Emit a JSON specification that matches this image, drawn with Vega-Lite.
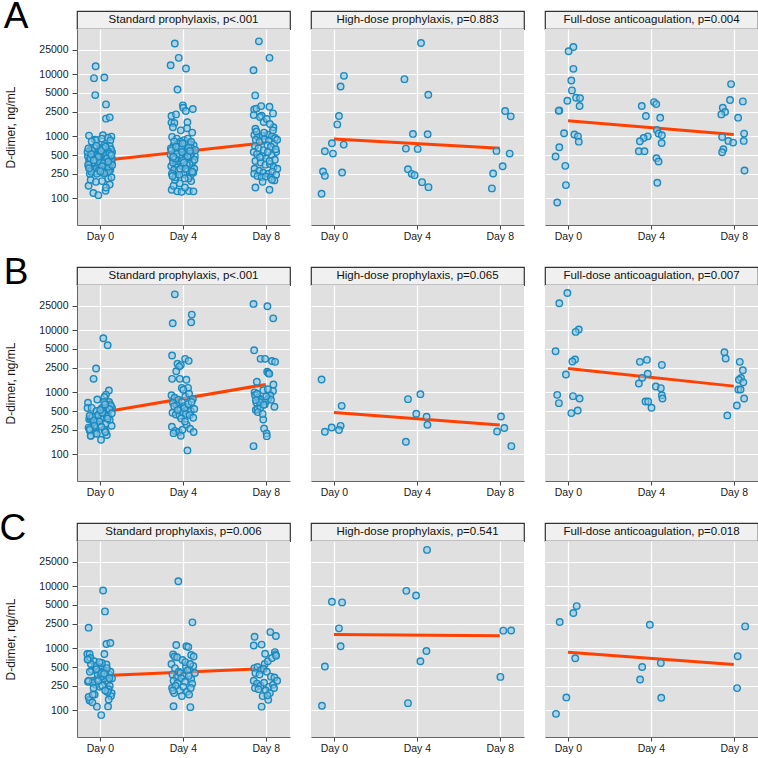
{
"$schema":"https://vega.github.io/schema/vega-lite/v6.json",
"padding":{"left":-2,"top":-3,"right":0,"bottom":0},
"config":{"font":"Liberation Sans, Arial, sans-serif","view":{"fill":"#e0e0e0","stroke":null},
"axis":{"labelFont":"Liberation Sans, Arial, sans-serif","labelFontSize":10.5,"labelColor":"#1a1a1a","gridColor":"#ffffff","gridWidth":1.2,"domainColor":"#666666","tickColor":"#444444","tickSize":4,"labelPadding":2,"titleFont":"Liberation Sans, Arial, sans-serif","titleFontWeight":"normal","titleFontSize":12,"titleColor":"#1a1a1a"},
"axisY":{"tickSize":5,"labelPadding":4},
"title":{"font":"Liberation Sans, Arial, sans-serif","fontWeight":"normal"}},
"datasets":{
"lns":[{"r":"A","a":"S","x":0,"v":406},{"r":"A","a":"S","x":8,"v":792},{"r":"A","a":"H","x":0,"v":908},{"r":"A","a":"H","x":8,"v":643},{"r":"A","a":"F","x":0,"v":1790},{"r":"A","a":"F","x":8,"v":1067},
{"r":"B","a":"S","x":0,"v":470},{"r":"B","a":"S","x":8,"v":1340},{"r":"B","a":"H","x":0,"v":474},{"r":"B","a":"H","x":8,"v":297},{"r":"B","a":"F","x":0,"v":2420},{"r":"B","a":"F","x":8,"v":1260},
{"r":"C","a":"S","x":0,"v":362},{"r":"C","a":"S","x":8,"v":473},{"r":"C","a":"H","x":0,"v":1665},{"r":"C","a":"H","x":8,"v":1600},{"r":"C","a":"F","x":0,"v":865},{"r":"C","a":"F","x":8,"v":548}],
"pts":[
{"r":"A","a":"S","x":-0.21,"v":13500},{"r":"A","a":"S","x":-0.29,"v":8670},{"r":"A","a":"S","x":0.21,"v":8890},{"r":"A","a":"S","x":-0.23,"v":4625},{"r":"A","a":"S","x":0.29,"v":3275},{"r":"A","a":"S","x":0.29,"v":1930},{"r":"A","a":"S","x":0.47,"v":2025},{"r":"A","a":"S","x":-0.53,"v":1028},{"r":"A","a":"S","x":0.14,"v":1040},{"r":"A","a":"S","x":0.55,"v":990},{"r":"A","a":"S","x":-0.24,"v":880},{"r":"A","a":"S","x":-0.16,"v":870},{"r":"A","a":"S","x":0.38,"v":950},{"r":"A","a":"S","x":0.08,"v":920},{"r":"A","a":"S","x":0.5,"v":860},{"r":"A","a":"S","x":-0.4,"v":830},
{"r":"A","a":"S","x":-0.55,"v":160},{"r":"A","a":"S","x":-0.32,"v":122},{"r":"A","a":"S","x":-0.08,"v":113},{"r":"A","a":"S","x":0.27,"v":133},{"r":"A","a":"S","x":0.47,"v":168},{"r":"A","a":"S","x":0.29,"v":150},{"r":"A","a":"S","x":-0.45,"v":200},{"r":"A","a":"S","x":0.1,"v":190},{"r":"A","a":"S","x":0.4,"v":210},{"r":"A","a":"S","x":-0.2,"v":185},{"r":"A","a":"S","x":0.55,"v":220},
{"r":"A","a":"S","x":-0.52,"v":420},{"r":"A","a":"S","x":0.31,"v":380},{"r":"A","a":"S","x":-0.07,"v":510},{"r":"A","a":"S","x":0.44,"v":460},{"r":"A","a":"S","x":-0.33,"v":300},{"r":"A","a":"S","x":0.12,"v":350},{"r":"A","a":"S","x":0.58,"v":560},{"r":"A","a":"S","x":-0.21,"v":270},{"r":"A","a":"S","x":0.03,"v":440},{"r":"A","a":"S","x":-0.46,"v":610},{"r":"A","a":"S","x":0.26,"v":330},{"r":"A","a":"S","x":-0.14,"v":390},{"r":"A","a":"S","x":0.5,"v":290},{"r":"A","a":"S","x":-0.58,"v":480},{"r":"A","a":"S","x":0.19,"v":600},{"r":"A","a":"S","x":-0.28,"v":355},{"r":"A","a":"S","x":0.38,"v":410},{"r":"A","a":"S","x":-0.01,"v":650},{"r":"A","a":"S","x":0.09,"v":260},{"r":"A","a":"S","x":-0.39,"v":340},{"r":"A","a":"S","x":0.22,"v":520},{"r":"A","a":"S","x":-0.49,"v":250},{"r":"A","a":"S","x":0.47,"v":700},{"r":"A","a":"S","x":-0.11,"v":430},{"r":"A","a":"S","x":0.35,"v":370},{"r":"A","a":"S","x":-0.24,"v":560},{"r":"A","a":"S","x":0.05,"v":310},{"r":"A","a":"S","x":0.56,"v":395},{"r":"A","a":"S","x":-0.36,"v":470},{"r":"A","a":"S","x":0.16,"v":280},{"r":"A","a":"S","x":-0.55,"v":330},{"r":"A","a":"S","x":0.41,"v":540},{"r":"A","a":"S","x":-0.03,"v":365},{"r":"A","a":"S","x":0.28,"v":450},{"r":"A","a":"S","x":-0.44,"v":290},{"r":"A","a":"S","x":0.53,"v":620},{"r":"A","a":"S","x":-0.17,"v":500},{"r":"A","a":"S","x":0.07,"v":405},{"r":"A","a":"S","x":-0.31,"v":380},{"r":"A","a":"S","x":0.33,"v":265},{"r":"A","a":"S","x":-0.6,"v":560},{"r":"A","a":"S","x":0.2,"v":720},{"r":"A","a":"S","x":-0.09,"v":340},{"r":"A","a":"S","x":0.45,"v":310},{"r":"A","a":"S","x":-0.26,"v":650},{"r":"A","a":"S","x":0.11,"v":480},{"r":"A","a":"S","x":-0.5,"v":395},{"r":"A","a":"S","x":0.37,"v":580},{"r":"A","a":"S","x":-0.19,"v":300},{"r":"A","a":"S","x":0.01,"v":545},{"r":"A","a":"S","x":0.57,"v":440},{"r":"A","a":"S","x":-0.42,"v":270},{"r":"A","a":"S","x":0.24,"v":415},{"r":"A","a":"S","x":-0.05,"v":285},{"r":"A","a":"S","x":0.49,"v":360},{"r":"A","a":"S","x":-0.34,"v":520},{"r":"A","a":"S","x":0.14,"v":640},{"r":"A","a":"S","x":-0.57,"v":350},{"r":"A","a":"S","x":0.3,"v":500},{"r":"A","a":"S","x":-0.13,"v":455},{"r":"A","a":"S","x":0.43,"v":275},{"r":"A","a":"S","x":-0.23,"v":420},{"r":"A","a":"S","x":0.06,"v":590},{"r":"A","a":"S","x":-0.47,"v":450},{"r":"A","a":"S","x":0.39,"v":325},{"r":"A","a":"S","x":-0.02,"v":395},{"r":"A","a":"S","x":0.52,"v":480},{"r":"A","a":"S","x":-0.38,"v":600},{"r":"A","a":"S","x":0.18,"v":370},{"r":"A","a":"S","x":-0.15,"v":250},{"r":"A","a":"S","x":0.27,"v":680},{"r":"A","a":"S","x":-0.53,"v":305},{"r":"A","a":"S","x":0.46,"v":530},{"r":"A","a":"S","x":-0.08,"v":470},{"r":"A","a":"S","x":0.34,"v":445},{"r":"A","a":"S","x":-0.3,"v":410},{"r":"A","a":"S","x":0.1,"v":330},{"r":"A","a":"S","x":0.59,"v":345},{"r":"A","a":"S","x":-0.43,"v":520},{"r":"A","a":"S","x":0.21,"v":255},{"r":"A","a":"S","x":-0.18,"v":710},{"r":"A","a":"S","x":0.4,"v":390},{"r":"A","a":"S","x":-0.56,"v":640},{"r":"A","a":"S","x":0.02,"v":275},{"r":"A","a":"S","x":0.55,"v":500},
{"r":"A","a":"S","x":3.61,"v":31300},{"r":"A","a":"S","x":3.8,"v":18400},{"r":"A","a":"S","x":3.41,"v":14000},{"r":"A","a":"S","x":4.15,"v":12400},{"r":"A","a":"S","x":3.74,"v":5700},{"r":"A","a":"S","x":4.0,"v":3155},{"r":"A","a":"S","x":4.02,"v":2890},{"r":"A","a":"S","x":4.48,"v":2760},{"r":"A","a":"S","x":4.14,"v":2560},{"r":"A","a":"S","x":3.45,"v":2130},{"r":"A","a":"S","x":3.67,"v":2260},{"r":"A","a":"S","x":3.45,"v":1665},{"r":"A","a":"S","x":3.59,"v":1640},{"r":"A","a":"S","x":4.22,"v":1690},{"r":"A","a":"S","x":3.52,"v":1400},{"r":"A","a":"S","x":4.2,"v":1350},{"r":"A","a":"S","x":3.9,"v":1250},{"r":"A","a":"S","x":4.45,"v":1150},
{"r":"A","a":"S","x":3.46,"v":138},{"r":"A","a":"S","x":3.73,"v":130},{"r":"A","a":"S","x":3.94,"v":128},{"r":"A","a":"S","x":4.29,"v":132},{"r":"A","a":"S","x":4.51,"v":130},{"r":"A","a":"S","x":3.55,"v":160},{"r":"A","a":"S","x":4.1,"v":150},{"r":"A","a":"S","x":3.85,"v":175},{"r":"A","a":"S","x":4.4,"v":190},{"r":"A","a":"S","x":3.62,"v":200},
{"r":"A","a":"S","x":3.48,"v":980},{"r":"A","a":"S","x":3.71,"v":920},{"r":"A","a":"S","x":4.06,"v":870},{"r":"A","a":"S","x":4.33,"v":760},{"r":"A","a":"S","x":3.55,"v":700},{"r":"A","a":"S","x":3.88,"v":820},{"r":"A","a":"S","x":4.18,"v":680},{"r":"A","a":"S","x":4.52,"v":720},{"r":"A","a":"S","x":3.42,"v":640},{"r":"A","a":"S","x":3.77,"v":760},{"r":"A","a":"S","x":4.01,"v":600},{"r":"A","a":"S","x":4.41,"v":650},{"r":"A","a":"S","x":3.6,"v":540},{"r":"A","a":"S","x":3.95,"v":700},{"r":"A","a":"S","x":4.25,"v":560},{"r":"A","a":"S","x":4.58,"v":480},{"r":"A","a":"S","x":3.5,"v":450},{"r":"A","a":"S","x":3.82,"v":620},{"r":"A","a":"S","x":4.12,"v":520},{"r":"A","a":"S","x":4.47,"v":390},{"r":"A","a":"S","x":3.66,"v":360},{"r":"A","a":"S","x":3.99,"v":470},{"r":"A","a":"S","x":4.3,"v":430},{"r":"A","a":"S","x":3.44,"v":330},{"r":"A","a":"S","x":3.74,"v":400},{"r":"A","a":"S","x":4.08,"v":340},{"r":"A","a":"S","x":4.38,"v":310},{"r":"A","a":"S","x":3.57,"v":290},{"r":"A","a":"S","x":3.91,"v":370},{"r":"A","a":"S","x":4.21,"v":270},{"r":"A","a":"S","x":4.55,"v":300},{"r":"A","a":"S","x":3.47,"v":250},{"r":"A","a":"S","x":3.79,"v":280},{"r":"A","a":"S","x":4.03,"v":245},{"r":"A","a":"S","x":4.35,"v":230},{"r":"A","a":"S","x":3.64,"v":220},{"r":"A","a":"S","x":3.97,"v":330},{"r":"A","a":"S","x":4.27,"v":210},{"r":"A","a":"S","x":4.5,"v":260},{"r":"A","a":"S","x":3.52,"v":380},{"r":"A","a":"S","x":3.85,"v":500},{"r":"A","a":"S","x":4.15,"v":440},{"r":"A","a":"S","x":4.43,"v":550},{"r":"A","a":"S","x":3.69,"v":590},{"r":"A","a":"S","x":4.0,"v":410},{"r":"A","a":"S","x":4.32,"v":360},{"r":"A","a":"S","x":3.4,"v":510},{"r":"A","a":"S","x":3.8,"v":680},{"r":"A","a":"S","x":4.1,"v":760},{"r":"A","a":"S","x":4.6,"v":600},{"r":"A","a":"S","x":3.58,"v":830},{"r":"A","a":"S","x":3.93,"v":640},{"r":"A","a":"S","x":4.24,"v":920},{"r":"A","a":"S","x":4.37,"v":480},{"r":"A","a":"S","x":3.63,"v":440},{"r":"A","a":"S","x":3.87,"v":300},{"r":"A","a":"S","x":4.19,"v":350},{"r":"A","a":"S","x":4.45,"v":270},{"r":"A","a":"S","x":3.5,"v":230},{"r":"A","a":"S","x":4.05,"v":380},{"r":"A","a":"S","x":4.28,"v":660},{"r":"A","a":"S","x":3.72,"v":520},{"r":"A","a":"S","x":3.96,"v":560},{"r":"A","a":"S","x":4.4,"v":820},{"r":"A","a":"S","x":3.45,"v":600},{"r":"A","a":"S","x":4.13,"v":300},{"r":"A","a":"S","x":4.56,"v":420},{"r":"A","a":"S","x":3.83,"v":240},{"r":"A","a":"S","x":4.23,"v":480},{"r":"A","a":"S","x":3.67,"v":680},{"r":"A","a":"S","x":3.98,"v":770},{"r":"A","a":"S","x":4.34,"v":580},{"r":"A","a":"S","x":3.54,"v":470},{"r":"A","a":"S","x":4.09,"v":210},
{"r":"A","a":"S","x":7.67,"v":34000},{"r":"A","a":"S","x":8.18,"v":18400},{"r":"A","a":"S","x":7.41,"v":11640},{"r":"A","a":"S","x":7.49,"v":4570},{"r":"A","a":"S","x":7.44,"v":2720},{"r":"A","a":"S","x":7.55,"v":2800},{"r":"A","a":"S","x":7.78,"v":3075},{"r":"A","a":"S","x":8.18,"v":3000},{"r":"A","a":"S","x":8.35,"v":2345},{"r":"A","a":"S","x":7.8,"v":2150},{"r":"A","a":"S","x":7.72,"v":2050},{"r":"A","a":"S","x":7.42,"v":2200},{"r":"A","a":"S","x":7.5,"v":1330},{"r":"A","a":"S","x":8.37,"v":1400},{"r":"A","a":"S","x":7.9,"v":1700},{"r":"A","a":"S","x":8.05,"v":1900},{"r":"A","a":"S","x":8.2,"v":1580},
{"r":"A","a":"S","x":7.45,"v":1050},{"r":"A","a":"S","x":7.62,"v":980},{"r":"A","a":"S","x":7.85,"v":1020},{"r":"A","a":"S","x":8.1,"v":1060},{"r":"A","a":"S","x":8.3,"v":1000},{"r":"A","a":"S","x":8.45,"v":940},{"r":"A","a":"S","x":7.52,"v":880},{"r":"A","a":"S","x":7.7,"v":820},{"r":"A","a":"S","x":7.95,"v":900},{"r":"A","a":"S","x":8.15,"v":840},{"r":"A","a":"S","x":8.4,"v":760},{"r":"A","a":"S","x":8.55,"v":880},{"r":"A","a":"S","x":7.48,"v":700},{"r":"A","a":"S","x":7.65,"v":640},{"r":"A","a":"S","x":7.9,"v":600},{"r":"A","a":"S","x":8.08,"v":720},{"r":"A","a":"S","x":8.25,"v":680},{"r":"A","a":"S","x":8.5,"v":560},{"r":"A","a":"S","x":7.42,"v":560},{"r":"A","a":"S","x":7.58,"v":520},{"r":"A","a":"S","x":7.82,"v":480},{"r":"A","a":"S","x":8.02,"v":440},{"r":"A","a":"S","x":8.28,"v":500},{"r":"A","a":"S","x":8.44,"v":420},{"r":"A","a":"S","x":7.5,"v":400},{"r":"A","a":"S","x":7.75,"v":380},{"r":"A","a":"S","x":7.98,"v":350},{"r":"A","a":"S","x":8.2,"v":360},{"r":"A","a":"S","x":8.38,"v":320},{"r":"A","a":"S","x":8.56,"v":300},{"r":"A","a":"S","x":7.46,"v":300},{"r":"A","a":"S","x":7.68,"v":280},{"r":"A","a":"S","x":7.88,"v":260},{"r":"A","a":"S","x":8.12,"v":250},{"r":"A","a":"S","x":8.32,"v":270},{"r":"A","a":"S","x":8.5,"v":240},{"r":"A","a":"S","x":7.44,"v":250},{"r":"A","a":"S","x":7.6,"v":230},{"r":"A","a":"S","x":7.8,"v":220},{"r":"A","a":"S","x":8.0,"v":225},{"r":"A","a":"S","x":8.24,"v":215},{"r":"A","a":"S","x":8.42,"v":195},{"r":"A","a":"S","x":7.55,"v":1200},{"r":"A","a":"S","x":7.92,"v":1150},{"r":"A","a":"S","x":8.35,"v":1250},{"r":"A","a":"S","x":8.1,"v":560},{"r":"A","a":"S","x":7.72,"v":460},{"r":"A","a":"S","x":8.48,"v":620},{"r":"A","a":"S","x":8.18,"v":400},{"r":"A","a":"S","x":7.5,"v":150},{"r":"A","a":"S","x":8.18,"v":138},{"r":"A","a":"S","x":7.85,"v":185},{"r":"A","a":"S","x":8.3,"v":200},
{"r":"A","a":"H","x":0.48,"v":9450},{"r":"A","a":"H","x":0.32,"v":6370},{"r":"A","a":"H","x":0.24,"v":2130},{"r":"A","a":"H","x":0.16,"v":1560},{"r":"A","a":"H","x":-0.1,"v":774},{"r":"A","a":"H","x":0.47,"v":736},{"r":"A","a":"H","x":-0.44,"v":575},{"r":"A","a":"H","x":-0.05,"v":528},{"r":"A","a":"H","x":-0.53,"v":272},{"r":"A","a":"H","x":-0.44,"v":231},{"r":"A","a":"H","x":0.39,"v":262},{"r":"A","a":"H","x":-0.6,"v":119},
{"r":"A","a":"H","x":4.2,"v":32000},{"r":"A","a":"H","x":3.4,"v":8350},{"r":"A","a":"H","x":4.55,"v":4680},{"r":"A","a":"H","x":3.81,"v":1095},{"r":"A","a":"H","x":4.52,"v":1080},{"r":"A","a":"H","x":3.47,"v":635},{"r":"A","a":"H","x":4.04,"v":628},{"r":"A","a":"H","x":3.57,"v":296},{"r":"A","a":"H","x":3.75,"v":249},{"r":"A","a":"H","x":3.89,"v":237},{"r":"A","a":"H","x":4.25,"v":183},{"r":"A","a":"H","x":4.56,"v":152},
{"r":"A","a":"H","x":8.26,"v":2560},{"r":"A","a":"H","x":8.53,"v":2100},{"r":"A","a":"H","x":7.84,"v":583},{"r":"A","a":"H","x":8.48,"v":528},{"r":"A","a":"H","x":8.14,"v":330},{"r":"A","a":"H","x":7.68,"v":252},{"r":"A","a":"H","x":7.62,"v":145},
{"r":"A","a":"F","x":0.26,"v":27600},{"r":"A","a":"F","x":0.03,"v":23500},{"r":"A","a":"F","x":0.26,"v":12250},{"r":"A","a":"F","x":0.16,"v":7940},{"r":"A","a":"F","x":0.19,"v":5500},{"r":"A","a":"F","x":0.39,"v":4190},{"r":"A","a":"F","x":0.58,"v":4140},{"r":"A","a":"F","x":-0.03,"v":3750},{"r":"A","a":"F","x":0.56,"v":3080},{"r":"A","a":"F","x":-0.42,"v":2620},{"r":"A","a":"F","x":-0.45,"v":2580},{"r":"A","a":"F","x":-0.19,"v":1120},{"r":"A","a":"F","x":0.31,"v":1070},{"r":"A","a":"F","x":0.48,"v":1000},{"r":"A","a":"F","x":0.52,"v":822},{"r":"A","a":"F","x":-0.42,"v":667},{"r":"A","a":"F","x":-0.6,"v":473},{"r":"A","a":"F","x":-0.13,"v":335},{"r":"A","a":"F","x":-0.1,"v":164},{"r":"A","a":"F","x":-0.52,"v":86},
{"r":"A","a":"F","x":3.56,"v":3080},{"r":"A","a":"F","x":4.15,"v":3565},{"r":"A","a":"F","x":4.26,"v":3310},{"r":"A","a":"F","x":3.76,"v":2130},{"r":"A","a":"F","x":4.45,"v":2000},{"r":"A","a":"F","x":4.29,"v":1270},{"r":"A","a":"F","x":4.37,"v":1107},{"r":"A","a":"F","x":4.53,"v":1040},{"r":"A","a":"F","x":3.85,"v":1000},{"r":"A","a":"F","x":3.65,"v":942},{"r":"A","a":"F","x":3.47,"v":834},{"r":"A","a":"F","x":4.52,"v":783},{"r":"A","a":"F","x":3.42,"v":575},{"r":"A","a":"F","x":3.69,"v":575},{"r":"A","a":"F","x":4.27,"v":445},{"r":"A","a":"F","x":4.37,"v":393},{"r":"A","a":"F","x":4.31,"v":179},
{"r":"A","a":"F","x":7.87,"v":6950},{"r":"A","a":"F","x":7.82,"v":3850},{"r":"A","a":"F","x":8.44,"v":3660},{"r":"A","a":"F","x":7.47,"v":2890},{"r":"A","a":"F","x":7.58,"v":2470},{"r":"A","a":"F","x":7.4,"v":2260},{"r":"A","a":"F","x":8.21,"v":2000},{"r":"A","a":"F","x":7.44,"v":977},{"r":"A","a":"F","x":8.5,"v":1107},{"r":"A","a":"F","x":8.48,"v":844},{"r":"A","a":"F","x":7.74,"v":844},{"r":"A","a":"F","x":7.97,"v":793},{"r":"A","a":"F","x":7.5,"v":620},{"r":"A","a":"F","x":7.44,"v":555},{"r":"A","a":"F","x":8.52,"v":282},
{"r":"B","a":"S","x":0.16,"v":7450},{"r":"B","a":"S","x":0.37,"v":5750},{"r":"B","a":"S","x":-0.19,"v":2420},{"r":"B","a":"S","x":-0.31,"v":1652},{"r":"B","a":"S","x":0.43,"v":1072},{"r":"B","a":"S","x":0.29,"v":920},{"r":"B","a":"S","x":0.21,"v":840},{"r":"B","a":"S","x":-0.13,"v":767},{"r":"B","a":"S","x":-0.58,"v":680},{"r":"B","a":"S","x":-0.6,"v":560},{"r":"B","a":"S","x":-0.4,"v":562},
{"r":"B","a":"S","x":-0.52,"v":370},{"r":"B","a":"S","x":0.31,"v":620},{"r":"B","a":"S","x":-0.07,"v":450},{"r":"B","a":"S","x":0.44,"v":700},{"r":"B","a":"S","x":-0.33,"v":330},{"r":"B","a":"S","x":0.12,"v":400},{"r":"B","a":"S","x":0.58,"v":560},{"r":"B","a":"S","x":-0.21,"v":260},{"r":"B","a":"S","x":0.03,"v":480},{"r":"B","a":"S","x":-0.46,"v":380},{"r":"B","a":"S","x":0.26,"v":310},{"r":"B","a":"S","x":-0.14,"v":350},{"r":"B","a":"S","x":0.5,"v":640},{"r":"B","a":"S","x":-0.55,"v":270},{"r":"B","a":"S","x":0.19,"v":510},{"r":"B","a":"S","x":-0.28,"v":240},{"r":"B","a":"S","x":0.38,"v":430},{"r":"B","a":"S","x":-0.01,"v":300},{"r":"B","a":"S","x":0.09,"v":560},{"r":"B","a":"S","x":-0.39,"v":390},{"r":"B","a":"S","x":0.22,"v":250},{"r":"B","a":"S","x":-0.49,"v":240},{"r":"B","a":"S","x":0.47,"v":360},{"r":"B","a":"S","x":-0.11,"v":420},{"r":"B","a":"S","x":0.35,"v":480},{"r":"B","a":"S","x":-0.24,"v":220},{"r":"B","a":"S","x":0.05,"v":380},{"r":"B","a":"S","x":0.56,"v":290},{"r":"B","a":"S","x":-0.36,"v":410},{"r":"B","a":"S","x":0.16,"v":460},{"r":"B","a":"S","x":-0.44,"v":200},{"r":"B","a":"S","x":0.41,"v":520},{"r":"B","a":"S","x":-0.03,"v":340},{"r":"B","a":"S","x":0.28,"v":230},{"r":"B","a":"S","x":0.53,"v":600},{"r":"B","a":"S","x":-0.17,"v":500},{"r":"B","a":"S","x":0.07,"v":280},{"r":"B","a":"S","x":-0.31,"v":350},{"r":"B","a":"S","x":0.33,"v":410},{"r":"B","a":"S","x":0.2,"v":700},{"r":"B","a":"S","x":-0.09,"v":430},{"r":"B","a":"S","x":0.45,"v":540},{"r":"B","a":"S","x":-0.26,"v":290},{"r":"B","a":"S","x":0.11,"v":470},{"r":"B","a":"S","x":-0.5,"v":420},{"r":"B","a":"S","x":0.37,"v":380},{"r":"B","a":"S","x":0.01,"v":520},{"r":"B","a":"S","x":0.57,"v":460},{"r":"B","a":"S","x":0.24,"v":640},{"r":"B","a":"S","x":0.05,"v":172},{"r":"B","a":"S","x":-0.45,"v":200},{"r":"B","a":"S","x":0.33,"v":205},{"r":"B","a":"S","x":-0.15,"v":215},{"r":"B","a":"S","x":0.25,"v":230},{"r":"B","a":"S","x":-0.5,"v":255},
{"r":"B","a":"S","x":3.61,"v":38000},{"r":"B","a":"S","x":4.43,"v":17900},{"r":"B","a":"S","x":3.51,"v":13000},{"r":"B","a":"S","x":4.4,"v":13500},{"r":"B","a":"S","x":3.48,"v":3920},{"r":"B","a":"S","x":4.11,"v":3470},{"r":"B","a":"S","x":4.28,"v":3220},{"r":"B","a":"S","x":3.74,"v":2900},{"r":"B","a":"S","x":3.9,"v":2750},{"r":"B","a":"S","x":3.82,"v":2600},{"r":"B","a":"S","x":3.68,"v":2190},{"r":"B","a":"S","x":3.48,"v":1650},{"r":"B","a":"S","x":3.85,"v":1650},{"r":"B","a":"S","x":4.17,"v":1600},{"r":"B","a":"S","x":3.95,"v":1180},{"r":"B","a":"S","x":4.25,"v":1180},{"r":"B","a":"S","x":4.02,"v":1100},{"r":"B","a":"S","x":4.22,"v":116},
{"r":"B","a":"S","x":3.45,"v":900},{"r":"B","a":"S","x":3.6,"v":820},{"r":"B","a":"S","x":3.78,"v":760},{"r":"B","a":"S","x":3.96,"v":700},{"r":"B","a":"S","x":4.12,"v":860},{"r":"B","a":"S","x":4.3,"v":950},{"r":"B","a":"S","x":4.48,"v":780},{"r":"B","a":"S","x":3.52,"v":680},{"r":"B","a":"S","x":3.7,"v":620},{"r":"B","a":"S","x":3.88,"v":560},{"r":"B","a":"S","x":4.05,"v":600},{"r":"B","a":"S","x":4.2,"v":520},{"r":"B","a":"S","x":4.38,"v":500},{"r":"B","a":"S","x":4.55,"v":540},{"r":"B","a":"S","x":3.5,"v":470},{"r":"B","a":"S","x":3.66,"v":440},{"r":"B","a":"S","x":3.84,"v":420},{"r":"B","a":"S","x":4.0,"v":480},{"r":"B","a":"S","x":4.15,"v":450},{"r":"B","a":"S","x":4.33,"v":430},{"r":"B","a":"S","x":4.5,"v":390},{"r":"B","a":"S","x":3.58,"v":600},{"r":"B","a":"S","x":3.75,"v":520},{"r":"B","a":"S","x":3.92,"v":380},{"r":"B","a":"S","x":4.08,"v":560},{"r":"B","a":"S","x":4.26,"v":650},{"r":"B","a":"S","x":4.42,"v":700},{"r":"B","a":"S","x":3.47,"v":280},{"r":"B","a":"S","x":3.62,"v":240},{"r":"B","a":"S","x":3.8,"v":230},{"r":"B","a":"S","x":3.98,"v":250},{"r":"B","a":"S","x":4.18,"v":300},{"r":"B","a":"S","x":4.35,"v":260},{"r":"B","a":"S","x":4.52,"v":230},{"r":"B","a":"S","x":3.55,"v":220},{"r":"B","a":"S","x":3.9,"v":200},{"r":"B","a":"S","x":4.1,"v":340},
{"r":"B","a":"S","x":7.41,"v":26600},{"r":"B","a":"S","x":8.08,"v":24400},{"r":"B","a":"S","x":8.36,"v":15600},{"r":"B","a":"S","x":7.44,"v":4780},{"r":"B","a":"S","x":7.75,"v":3470},{"r":"B","a":"S","x":7.97,"v":3470},{"r":"B","a":"S","x":8.3,"v":3200},{"r":"B","a":"S","x":8.45,"v":3100},{"r":"B","a":"S","x":8.07,"v":2150},{"r":"B","a":"S","x":8.12,"v":2050},{"r":"B","a":"S","x":8.17,"v":2000},{"r":"B","a":"S","x":7.57,"v":1480},{"r":"B","a":"S","x":8.37,"v":1340},{"r":"B","a":"S","x":7.46,"v":1000},{"r":"B","a":"S","x":7.88,"v":1080},{"r":"B","a":"S","x":8.35,"v":1050},{"r":"B","a":"S","x":7.55,"v":680},{"r":"B","a":"S","x":7.52,"v":520},{"r":"B","a":"S","x":7.6,"v":540},{"r":"B","a":"S","x":7.74,"v":570},{"r":"B","a":"S","x":7.95,"v":640},{"r":"B","a":"S","x":8.13,"v":800},{"r":"B","a":"S","x":8.42,"v":585},{"r":"B","a":"S","x":7.88,"v":366},{"r":"B","a":"S","x":7.92,"v":262},{"r":"B","a":"S","x":8.04,"v":218},{"r":"B","a":"S","x":8.05,"v":197},{"r":"B","a":"S","x":7.41,"v":136},{"r":"B","a":"S","x":7.48,"v":900},{"r":"B","a":"S","x":7.65,"v":820},{"r":"B","a":"S","x":7.8,"v":760},{"r":"B","a":"S","x":8.0,"v":720},{"r":"B","a":"S","x":8.22,"v":900},{"r":"B","a":"S","x":7.58,"v":950},{"r":"B","a":"S","x":7.7,"v":700},{"r":"B","a":"S","x":7.9,"v":630},{"r":"B","a":"S","x":8.1,"v":1120},{"r":"B","a":"S","x":7.62,"v":480},{"r":"B","a":"S","x":7.85,"v":450},{"r":"B","a":"S","x":8.25,"v":760},{"r":"B","a":"S","x":7.52,"v":750},{"r":"B","a":"S","x":8.02,"v":860},
{"r":"B","a":"H","x":-0.6,"v":1610},{"r":"B","a":"H","x":0.37,"v":607},{"r":"B","a":"H","x":0.32,"v":289},{"r":"B","a":"H","x":-0.11,"v":272},{"r":"B","a":"H","x":0.24,"v":247},{"r":"B","a":"H","x":-0.44,"v":232},
{"r":"B","a":"H","x":4.17,"v":935},{"r":"B","a":"H","x":3.57,"v":778},{"r":"B","a":"H","x":3.97,"v":452},{"r":"B","a":"H","x":4.47,"v":404},{"r":"B","a":"H","x":4.51,"v":300},{"r":"B","a":"H","x":3.47,"v":160},
{"r":"B","a":"H","x":8.06,"v":409},{"r":"B","a":"H","x":8.22,"v":266},{"r":"B","a":"H","x":7.87,"v":234},{"r":"B","a":"H","x":8.56,"v":136},
{"r":"B","a":"F","x":-0.03,"v":40000},{"r":"B","a":"F","x":-0.42,"v":27300},{"r":"B","a":"F","x":0.52,"v":10280},{"r":"B","a":"F","x":0.37,"v":9420},{"r":"B","a":"F","x":-0.6,"v":4600},{"r":"B","a":"F","x":0.34,"v":3380},{"r":"B","a":"F","x":0.21,"v":3140},{"r":"B","a":"F","x":-0.1,"v":1940},{"r":"B","a":"F","x":-0.52,"v":912},{"r":"B","a":"F","x":0.24,"v":869},{"r":"B","a":"F","x":0.56,"v":796},{"r":"B","a":"F","x":-0.44,"v":670},{"r":"B","a":"F","x":0.47,"v":511},{"r":"B","a":"F","x":0.16,"v":463},
{"r":"B","a":"F","x":3.47,"v":3100},{"r":"B","a":"F","x":3.81,"v":3340},{"r":"B","a":"F","x":4.53,"v":2770},{"r":"B","a":"F","x":3.85,"v":1990},{"r":"B","a":"F","x":3.58,"v":1715},{"r":"B","a":"F","x":3.42,"v":1390},{"r":"B","a":"F","x":4.24,"v":1240},{"r":"B","a":"F","x":4.48,"v":1170},{"r":"B","a":"F","x":4.53,"v":900},{"r":"B","a":"F","x":4.56,"v":797},{"r":"B","a":"F","x":3.74,"v":713},{"r":"B","a":"F","x":3.87,"v":713},{"r":"B","a":"F","x":4.03,"v":564},
{"r":"B","a":"F","x":7.55,"v":4440},{"r":"B","a":"F","x":7.61,"v":3510},{"r":"B","a":"F","x":8.29,"v":3100},{"r":"B","a":"F","x":8.44,"v":2275},{"r":"B","a":"F","x":8.35,"v":1700},{"r":"B","a":"F","x":8.25,"v":1600},{"r":"B","a":"F","x":8.46,"v":1450},{"r":"B","a":"F","x":8.22,"v":1110},{"r":"B","a":"F","x":8.33,"v":1110},{"r":"B","a":"F","x":8.5,"v":796},{"r":"B","a":"F","x":8.15,"v":615},{"r":"B","a":"F","x":7.69,"v":425},
{"r":"C","a":"S","x":0.15,"v":8570},{"r":"C","a":"S","x":0.24,"v":3940},{"r":"C","a":"S","x":-0.55,"v":2155},{"r":"C","a":"S","x":0.31,"v":1178},{"r":"C","a":"S","x":0.5,"v":1220},{"r":"C","a":"S","x":-0.61,"v":813},{"r":"C","a":"S","x":-0.5,"v":813},{"r":"C","a":"S","x":0.21,"v":813},
{"r":"C","a":"S","x":-0.52,"v":650},{"r":"C","a":"S","x":0.31,"v":550},{"r":"C","a":"S","x":-0.07,"v":430},{"r":"C","a":"S","x":0.44,"v":380},{"r":"C","a":"S","x":-0.33,"v":300},{"r":"C","a":"S","x":0.12,"v":470},{"r":"C","a":"S","x":0.58,"v":330},{"r":"C","a":"S","x":-0.21,"v":260},{"r":"C","a":"S","x":0.03,"v":500},{"r":"C","a":"S","x":-0.46,"v":700},{"r":"C","a":"S","x":0.26,"v":400},{"r":"C","a":"S","x":-0.14,"v":320},{"r":"C","a":"S","x":0.5,"v":420},{"r":"C","a":"S","x":-0.58,"v":290},{"r":"C","a":"S","x":0.19,"v":360},{"r":"C","a":"S","x":-0.28,"v":620},{"r":"C","a":"S","x":0.38,"v":300},{"r":"C","a":"S","x":-0.01,"v":240},{"r":"C","a":"S","x":0.09,"v":580},{"r":"C","a":"S","x":-0.39,"v":450},{"r":"C","a":"S","x":0.22,"v":330},{"r":"C","a":"S","x":-0.49,"v":420},{"r":"C","a":"S","x":0.47,"v":250},{"r":"C","a":"S","x":-0.11,"v":380},{"r":"C","a":"S","x":0.35,"v":200},{"r":"C","a":"S","x":-0.24,"v":520},{"r":"C","a":"S","x":0.05,"v":350},{"r":"C","a":"S","x":0.56,"v":190},{"r":"C","a":"S","x":-0.36,"v":280},{"r":"C","a":"S","x":0.16,"v":430},{"r":"C","a":"S","x":-0.55,"v":300},{"r":"C","a":"S","x":0.41,"v":220},{"r":"C","a":"S","x":-0.03,"v":600},{"r":"C","a":"S","x":0.28,"v":370},{"r":"C","a":"S","x":-0.44,"v":560},{"r":"C","a":"S","x":0.53,"v":170},{"r":"C","a":"S","x":-0.17,"v":460},{"r":"C","a":"S","x":0.07,"v":400},{"r":"C","a":"S","x":-0.31,"v":230},{"r":"C","a":"S","x":0.33,"v":480},{"r":"C","a":"S","x":-0.6,"v":660},{"r":"C","a":"S","x":0.2,"v":390},{"r":"C","a":"S","x":-0.09,"v":300},{"r":"C","a":"S","x":0.45,"v":330},{"r":"C","a":"S","x":-0.26,"v":180},{"r":"C","a":"S","x":0.11,"v":250},{"r":"C","a":"S","x":-0.5,"v":150},{"r":"C","a":"S","x":0.37,"v":200},{"r":"C","a":"S","x":0.06,"v":84},{"r":"C","a":"S","x":-0.15,"v":115},{"r":"C","a":"S","x":0.39,"v":116},{"r":"C","a":"S","x":-0.5,"v":145},{"r":"C","a":"S","x":-0.37,"v":135},{"r":"C","a":"S","x":-0.55,"v":165},{"r":"C","a":"S","x":-0.35,"v":180},{"r":"C","a":"S","x":0.42,"v":150},{"r":"C","a":"S","x":0.25,"v":210},
{"r":"C","a":"S","x":3.78,"v":12080},{"r":"C","a":"S","x":4.46,"v":2625},{"r":"C","a":"S","x":3.68,"v":1135},{"r":"C","a":"S","x":4.17,"v":1080},{"r":"C","a":"S","x":4.26,"v":1050},{"r":"C","a":"S","x":3.53,"v":800},{"r":"C","a":"S","x":3.6,"v":740},{"r":"C","a":"S","x":4.4,"v":780},{"r":"C","a":"S","x":4.52,"v":740},{"r":"C","a":"S","x":3.55,"v":117},{"r":"C","a":"S","x":4.36,"v":113},
{"r":"C","a":"S","x":3.45,"v":560},{"r":"C","a":"S","x":3.62,"v":480},{"r":"C","a":"S","x":3.8,"v":420},{"r":"C","a":"S","x":3.98,"v":650},{"r":"C","a":"S","x":4.15,"v":500},{"r":"C","a":"S","x":4.32,"v":460},{"r":"C","a":"S","x":4.5,"v":520},{"r":"C","a":"S","x":3.5,"v":380},{"r":"C","a":"S","x":3.7,"v":340},{"r":"C","a":"S","x":3.88,"v":400},{"r":"C","a":"S","x":4.05,"v":360},{"r":"C","a":"S","x":4.22,"v":440},{"r":"C","a":"S","x":4.4,"v":320},{"r":"C","a":"S","x":4.58,"v":400},{"r":"C","a":"S","x":3.55,"v":300},{"r":"C","a":"S","x":3.75,"v":280},{"r":"C","a":"S","x":3.92,"v":330},{"r":"C","a":"S","x":4.1,"v":290},{"r":"C","a":"S","x":4.28,"v":360},{"r":"C","a":"S","x":4.45,"v":270},{"r":"C","a":"S","x":3.48,"v":230},{"r":"C","a":"S","x":3.65,"v":250},{"r":"C","a":"S","x":3.85,"v":210},{"r":"C","a":"S","x":4.02,"v":240},{"r":"C","a":"S","x":4.2,"v":200},{"r":"C","a":"S","x":4.38,"v":230},{"r":"C","a":"S","x":3.58,"v":190},{"r":"C","a":"S","x":3.95,"v":170},{"r":"C","a":"S","x":4.3,"v":180},{"r":"C","a":"S","x":4.12,"v":600},{"r":"C","a":"S","x":3.72,"v":720},{"r":"C","a":"S","x":4.35,"v":560},{"r":"C","a":"S","x":3.52,"v":210},
{"r":"C","a":"S","x":8.22,"v":1830},{"r":"C","a":"S","x":8.49,"v":1580},{"r":"C","a":"S","x":7.46,"v":1540},{"r":"C","a":"S","x":7.8,"v":1150},{"r":"C","a":"S","x":7.42,"v":1110},{"r":"C","a":"S","x":7.97,"v":820},{"r":"C","a":"S","x":8.44,"v":870},{"r":"C","a":"S","x":8.47,"v":800},{"r":"C","a":"S","x":7.8,"v":115},{"r":"C","a":"S","x":8.12,"v":148},
{"r":"C","a":"S","x":7.45,"v":480},{"r":"C","a":"S","x":7.6,"v":500},{"r":"C","a":"S","x":7.78,"v":450},{"r":"C","a":"S","x":7.95,"v":560},{"r":"C","a":"S","x":8.1,"v":620},{"r":"C","a":"S","x":8.3,"v":700},{"r":"C","a":"S","x":8.5,"v":760},{"r":"C","a":"S","x":7.5,"v":400},{"r":"C","a":"S","x":7.7,"v":380},{"r":"C","a":"S","x":7.9,"v":470},{"r":"C","a":"S","x":8.05,"v":420},{"r":"C","a":"S","x":8.25,"v":350},{"r":"C","a":"S","x":8.42,"v":340},{"r":"C","a":"S","x":7.42,"v":300},{"r":"C","a":"S","x":7.58,"v":270},{"r":"C","a":"S","x":7.75,"v":250},{"r":"C","a":"S","x":7.92,"v":280},{"r":"C","a":"S","x":8.15,"v":240},{"r":"C","a":"S","x":8.35,"v":260},{"r":"C","a":"S","x":8.55,"v":300},{"r":"C","a":"S","x":7.48,"v":230},{"r":"C","a":"S","x":7.65,"v":220},{"r":"C","a":"S","x":8.0,"v":210},{"r":"C","a":"S","x":8.2,"v":190},{"r":"C","a":"S","x":8.4,"v":230},{"r":"C","a":"S","x":7.85,"v":170},{"r":"C","a":"S","x":8.08,"v":175},
{"r":"C","a":"H","x":4.49,"v":38600},{"r":"C","a":"H","x":3.49,"v":8450},{"r":"C","a":"H","x":3.96,"v":7110},{"r":"C","a":"H","x":-0.1,"v":5630},{"r":"C","a":"H","x":0.39,"v":5500},{"r":"C","a":"H","x":0.24,"v":2100},{"r":"C","a":"H","x":0.32,"v":1080},{"r":"C","a":"H","x":-0.44,"v":509},{"r":"C","a":"H","x":-0.58,"v":119},{"r":"C","a":"H","x":4.46,"v":908},{"r":"C","a":"H","x":4.17,"v":620},{"r":"C","a":"H","x":3.57,"v":131},{"r":"C","a":"H","x":8.17,"v":1930},{"r":"C","a":"H","x":8.55,"v":1940},{"r":"C","a":"H","x":8.03,"v":347},
{"r":"C","a":"F","x":0.42,"v":4800},{"r":"C","a":"F","x":0.26,"v":3710},{"r":"C","a":"F","x":-0.4,"v":2655},{"r":"C","a":"F","x":0.35,"v":692},{"r":"C","a":"F","x":-0.08,"v":162},{"r":"C","a":"F","x":-0.58,"v":88},{"r":"C","a":"F","x":3.95,"v":2405},{"r":"C","a":"F","x":4.48,"v":583},{"r":"C","a":"F","x":3.58,"v":502},{"r":"C","a":"F","x":3.48,"v":315},{"r":"C","a":"F","x":4.5,"v":160},{"r":"C","a":"F","x":8.55,"v":2260},{"r":"C","a":"F","x":8.19,"v":746},{"r":"C","a":"F","x":8.16,"v":229}
]},
"vconcat":[
{"hconcat":[
{"vconcat":[
{"width":213,"height":18,"data":{"values":[{"t":"Standard prophylaxis, p<.001"}]},"mark":{"type":"text","fontSize":11.5,"color":"#111"},"encoding":{"text":{"field":"t"}},"view":{"fill":"#f0f0f0","stroke":"#333","strokeWidth":1.2},
"title":{"text":"A","orient":"left","angle":0,"align":"right","baseline":"middle","anchor":"middle","offset":24,"fontSize":37,"color":"#000","dy":-3}},
{"width":213,"height":196,"encoding":{"x":{"field":"x","type":"quantitative","scale":{"domain":[-1.11,9.17],"nice":false,"zero":false},"axis":{"values":[0,4,8],"labelExpr":"'Day ' + datum.value","title":null}},
"y":{"field":"v","type":"quantitative","scale":{"type":"log","domain":[37.3,53700],"nice":false},"axis":{"values":[100,250,500,1000,2500,5000,10000,25000],"format":"d","title":"D-dimer, ng/mL","titlePadding":21}}},
"layer":[{"data":{"name":"lns"},"transform":[{"filter":"datum.r=='A'&&datum.a=='S'"}],"mark":{"type":"line","color":"#ff4000","strokeWidth":3}},
{"data":{"name":"pts"},"transform":[{"filter":"datum.r=='A'&&datum.a=='S'"}],"mark":{"type":"circle","size":42,"fill":"#8ec6e2","fillOpacity":0.55,"stroke":"#1b8ac0","strokeWidth":1.4,"opacity":1}}]}
],"spacing":0,"bounds":"flush"},
{"vconcat":[
{"width":213,"height":18,"data":{"values":[{"t":"High-dose prophylaxis, p=0.883"}]},"mark":{"type":"text","fontSize":11.5,"color":"#111"},"encoding":{"text":{"field":"t"}},"view":{"fill":"#f0f0f0","stroke":"#333","strokeWidth":1.2}},
{"width":213,"height":196,"encoding":{"x":{"field":"x","type":"quantitative","scale":{"domain":[-1.11,9.17],"nice":false,"zero":false},"axis":{"values":[0,4,8],"labelExpr":"'Day ' + datum.value","title":null}},
"y":{"field":"v","type":"quantitative","scale":{"type":"log","domain":[37.3,53700],"nice":false},"axis":{"values":[100,250,500,1000,2500,5000,10000,25000],"labels":false,"ticks":false,"domain":false,"title":null}}},
"layer":[{"data":{"name":"lns"},"transform":[{"filter":"datum.r=='A'&&datum.a=='H'"}],"mark":{"type":"line","color":"#ff4000","strokeWidth":3}},
{"data":{"name":"pts"},"transform":[{"filter":"datum.r=='A'&&datum.a=='H'"}],"mark":{"type":"circle","size":42,"fill":"#8ec6e2","fillOpacity":0.55,"stroke":"#1b8ac0","strokeWidth":1.4,"opacity":1}}]}
],"spacing":0,"bounds":"flush"},
{"vconcat":[
{"width":213,"height":18,"data":{"values":[{"t":"Full-dose anticoagulation, p=0.004"}]},"mark":{"type":"text","fontSize":11.5,"color":"#111"},"encoding":{"text":{"field":"t"}},"view":{"fill":"#f0f0f0","stroke":"#333","strokeWidth":1.2}},
{"width":213,"height":196,"encoding":{"x":{"field":"x","type":"quantitative","scale":{"domain":[-1.11,9.17],"nice":false,"zero":false},"axis":{"values":[0,4,8],"labelExpr":"'Day ' + datum.value","title":null}},
"y":{"field":"v","type":"quantitative","scale":{"type":"log","domain":[37.3,53700],"nice":false},"axis":{"values":[100,250,500,1000,2500,5000,10000,25000],"labels":false,"ticks":false,"domain":false,"title":null}}},
"layer":[{"data":{"name":"lns"},"transform":[{"filter":"datum.r=='A'&&datum.a=='F'"}],"mark":{"type":"line","color":"#ff4000","strokeWidth":3}},
{"data":{"name":"pts"},"transform":[{"filter":"datum.r=='A'&&datum.a=='F'"}],"mark":{"type":"circle","size":42,"fill":"#8ec6e2","fillOpacity":0.55,"stroke":"#1b8ac0","strokeWidth":1.4,"opacity":1}}]}
],"spacing":0,"bounds":"flush"}
],"spacing":19},
{"hconcat":[
{"vconcat":[
{"width":213,"height":18,"data":{"values":[{"t":"Standard prophylaxis, p<.001"}]},"mark":{"type":"text","fontSize":11.5,"color":"#111"},"encoding":{"text":{"field":"t"}},"view":{"fill":"#f0f0f0","stroke":"#333","strokeWidth":1.2},
"title":{"text":"B","orient":"left","angle":0,"align":"right","baseline":"middle","anchor":"middle","offset":24,"fontSize":37,"color":"#000","dy":-3}},
{"width":213,"height":196,"encoding":{"x":{"field":"x","type":"quantitative","scale":{"domain":[-1.11,9.17],"nice":false,"zero":false},"axis":{"values":[0,4,8],"labelExpr":"'Day ' + datum.value","title":null}},
"y":{"field":"v","type":"quantitative","scale":{"type":"log","domain":[37.3,53700],"nice":false},"axis":{"values":[100,250,500,1000,2500,5000,10000,25000],"format":"d","title":"D-dimer, ng/mL","titlePadding":21}}},
"layer":[{"data":{"name":"lns"},"transform":[{"filter":"datum.r=='B'&&datum.a=='S'"}],"mark":{"type":"line","color":"#ff4000","strokeWidth":3}},
{"data":{"name":"pts"},"transform":[{"filter":"datum.r=='B'&&datum.a=='S'"}],"mark":{"type":"circle","size":42,"fill":"#8ec6e2","fillOpacity":0.55,"stroke":"#1b8ac0","strokeWidth":1.4,"opacity":1}}]}
],"spacing":0,"bounds":"flush"},
{"vconcat":[
{"width":213,"height":18,"data":{"values":[{"t":"High-dose prophylaxis, p=0.065"}]},"mark":{"type":"text","fontSize":11.5,"color":"#111"},"encoding":{"text":{"field":"t"}},"view":{"fill":"#f0f0f0","stroke":"#333","strokeWidth":1.2}},
{"width":213,"height":196,"encoding":{"x":{"field":"x","type":"quantitative","scale":{"domain":[-1.11,9.17],"nice":false,"zero":false},"axis":{"values":[0,4,8],"labelExpr":"'Day ' + datum.value","title":null}},
"y":{"field":"v","type":"quantitative","scale":{"type":"log","domain":[37.3,53700],"nice":false},"axis":{"values":[100,250,500,1000,2500,5000,10000,25000],"labels":false,"ticks":false,"domain":false,"title":null}}},
"layer":[{"data":{"name":"lns"},"transform":[{"filter":"datum.r=='B'&&datum.a=='H'"}],"mark":{"type":"line","color":"#ff4000","strokeWidth":3}},
{"data":{"name":"pts"},"transform":[{"filter":"datum.r=='B'&&datum.a=='H'"}],"mark":{"type":"circle","size":42,"fill":"#8ec6e2","fillOpacity":0.55,"stroke":"#1b8ac0","strokeWidth":1.4,"opacity":1}}]}
],"spacing":0,"bounds":"flush"},
{"vconcat":[
{"width":213,"height":18,"data":{"values":[{"t":"Full-dose anticoagulation, p=0.007"}]},"mark":{"type":"text","fontSize":11.5,"color":"#111"},"encoding":{"text":{"field":"t"}},"view":{"fill":"#f0f0f0","stroke":"#333","strokeWidth":1.2}},
{"width":213,"height":196,"encoding":{"x":{"field":"x","type":"quantitative","scale":{"domain":[-1.11,9.17],"nice":false,"zero":false},"axis":{"values":[0,4,8],"labelExpr":"'Day ' + datum.value","title":null}},
"y":{"field":"v","type":"quantitative","scale":{"type":"log","domain":[37.3,53700],"nice":false},"axis":{"values":[100,250,500,1000,2500,5000,10000,25000],"labels":false,"ticks":false,"domain":false,"title":null}}},
"layer":[{"data":{"name":"lns"},"transform":[{"filter":"datum.r=='B'&&datum.a=='F'"}],"mark":{"type":"line","color":"#ff4000","strokeWidth":3}},
{"data":{"name":"pts"},"transform":[{"filter":"datum.r=='B'&&datum.a=='F'"}],"mark":{"type":"circle","size":42,"fill":"#8ec6e2","fillOpacity":0.55,"stroke":"#1b8ac0","strokeWidth":1.4,"opacity":1}}]}
],"spacing":0,"bounds":"flush"}
],"spacing":19},
{"hconcat":[
{"vconcat":[
{"width":213,"height":18,"data":{"values":[{"t":"Standard prophylaxis, p=0.006"}]},"mark":{"type":"text","fontSize":11.5,"color":"#111"},"encoding":{"text":{"field":"t"}},"view":{"fill":"#f0f0f0","stroke":"#333","strokeWidth":1.2},
"title":{"text":"C","orient":"left","angle":0,"align":"right","baseline":"middle","anchor":"middle","offset":24,"fontSize":37,"color":"#000","dy":-3}},
{"width":213,"height":196,"encoding":{"x":{"field":"x","type":"quantitative","scale":{"domain":[-1.11,9.17],"nice":false,"zero":false},"axis":{"values":[0,4,8],"labelExpr":"'Day ' + datum.value","title":null}},
"y":{"field":"v","type":"quantitative","scale":{"type":"log","domain":[37.3,53700],"nice":false},"axis":{"values":[100,250,500,1000,2500,5000,10000,25000],"format":"d","title":"D-dimer, ng/mL","titlePadding":21}}},
"layer":[{"data":{"name":"lns"},"transform":[{"filter":"datum.r=='C'&&datum.a=='S'"}],"mark":{"type":"line","color":"#ff4000","strokeWidth":3}},
{"data":{"name":"pts"},"transform":[{"filter":"datum.r=='C'&&datum.a=='S'"}],"mark":{"type":"circle","size":42,"fill":"#8ec6e2","fillOpacity":0.55,"stroke":"#1b8ac0","strokeWidth":1.4,"opacity":1}}]}
],"spacing":0,"bounds":"flush"},
{"vconcat":[
{"width":213,"height":18,"data":{"values":[{"t":"High-dose prophylaxis, p=0.541"}]},"mark":{"type":"text","fontSize":11.5,"color":"#111"},"encoding":{"text":{"field":"t"}},"view":{"fill":"#f0f0f0","stroke":"#333","strokeWidth":1.2}},
{"width":213,"height":196,"encoding":{"x":{"field":"x","type":"quantitative","scale":{"domain":[-1.11,9.17],"nice":false,"zero":false},"axis":{"values":[0,4,8],"labelExpr":"'Day ' + datum.value","title":null}},
"y":{"field":"v","type":"quantitative","scale":{"type":"log","domain":[37.3,53700],"nice":false},"axis":{"values":[100,250,500,1000,2500,5000,10000,25000],"labels":false,"ticks":false,"domain":false,"title":null}}},
"layer":[{"data":{"name":"lns"},"transform":[{"filter":"datum.r=='C'&&datum.a=='H'"}],"mark":{"type":"line","color":"#ff4000","strokeWidth":3}},
{"data":{"name":"pts"},"transform":[{"filter":"datum.r=='C'&&datum.a=='H'"}],"mark":{"type":"circle","size":42,"fill":"#8ec6e2","fillOpacity":0.55,"stroke":"#1b8ac0","strokeWidth":1.4,"opacity":1}}]}
],"spacing":0,"bounds":"flush"},
{"vconcat":[
{"width":213,"height":18,"data":{"values":[{"t":"Full-dose anticoagulation, p=0.018"}]},"mark":{"type":"text","fontSize":11.5,"color":"#111"},"encoding":{"text":{"field":"t"}},"view":{"fill":"#f0f0f0","stroke":"#333","strokeWidth":1.2}},
{"width":213,"height":196,"encoding":{"x":{"field":"x","type":"quantitative","scale":{"domain":[-1.11,9.17],"nice":false,"zero":false},"axis":{"values":[0,4,8],"labelExpr":"'Day ' + datum.value","title":null}},
"y":{"field":"v","type":"quantitative","scale":{"type":"log","domain":[37.3,53700],"nice":false},"axis":{"values":[100,250,500,1000,2500,5000,10000,25000],"labels":false,"ticks":false,"domain":false,"title":null}}},
"layer":[{"data":{"name":"lns"},"transform":[{"filter":"datum.r=='C'&&datum.a=='F'"}],"mark":{"type":"line","color":"#ff4000","strokeWidth":3}},
{"data":{"name":"pts"},"transform":[{"filter":"datum.r=='C'&&datum.a=='F'"}],"mark":{"type":"circle","size":42,"fill":"#8ec6e2","fillOpacity":0.55,"stroke":"#1b8ac0","strokeWidth":1.4,"opacity":1}}]}
],"spacing":0,"bounds":"flush"}
],"spacing":19}
],"spacing":11}
